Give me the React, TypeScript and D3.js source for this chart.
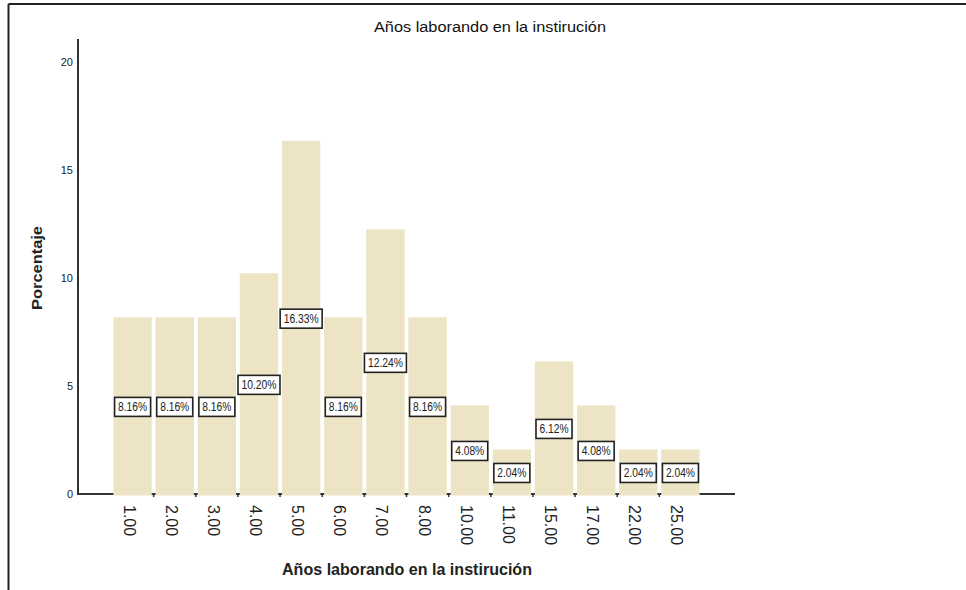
import React from "react";
import * as d3 from "d3";

const categories = ["1.00","2.00","3.00","4.00","5.00","6.00","7.00","8.00","10.00","11.00","15.00","17.00","22.00","25.00"];
const percentages = [8.16,8.16,8.16,10.20,16.33,8.16,12.24,8.16,4.08,2.04,6.12,4.08,2.04,2.04];
const yTicks = [0,5,10,15,20];
const titleText = "Años laborando en la instirución";
const xTitle = "Años laborando en la instirución";
const yTitle = "Porcentaje";

const W = 966, H = 590;

export default function App() {
  const y = d3.scaleLinear().domain([0, 21]).range([493.5, 40]);
  const x = d3.scaleBand<string>().domain(categories).range([111.5, 701.5]).paddingInner(0.09).paddingOuter(0.045);
  const bw = x.bandwidth();
  const step = x.step();
  const labelFont = "'Liberation Sans Narrow', 'Liberation Sans', Arial, sans-serif";
  const font = "'Liberation Sans', Arial, sans-serif";
  return (
    <svg width={W} height={H} style={{ position: "absolute", left: 0, top: 0, background: "#fff" }}>
      <rect x={0} y={0} width={W} height={H} fill="#fff" />
      {/* frame */}
      <line x1={8.5} y1={4} x2={W} y2={4} stroke="#222" strokeWidth={2} />
      <line x1={8.5} y1={4} x2={8.5} y2={H} stroke="#222" strokeWidth={2} />
      <text x={490} y={32} textAnchor="middle" fontFamily={font} fontSize={14} fill="#111"
        textLength={232} lengthAdjust="spacingAndGlyphs">{titleText}</text>
      {/* axes */}
      <line x1={78} y1={39} x2={78} y2={494.5} stroke="#333" strokeWidth={2} />
      <line x1={77} y1={494} x2={735} y2={494} stroke="#333" strokeWidth={2} />
      {yTicks.map(t => (
        <text key={t} x={73} y={y(t) + 4} textAnchor="end" fontFamily={font} fontSize={11} fill="#222">{t}</text>
      ))}
      {/* tick marks between bars */}
      {categories.slice(1).map(c => (
        <line key={"tk" + c} x1={(x(c) as number) - (step - bw) / 2} x2={(x(c) as number) - (step - bw) / 2}
          y1={494} y2={497} stroke="#333" strokeWidth={1.5} />
      ))}
      {/* bars */}
      {categories.map((c, i) => (
        <rect key={"b" + c} x={x(c)} y={y(percentages[i])} width={bw} height={495.5 - y(percentages[i])} fill="#EDE4C5" />
      ))}
      {/* labels */}
      {categories.map((c, i) => {
        const v = percentages[i];
        const txt = v.toFixed(2) + "%";
        const tl = txt.length >= 6 ? 35 : 29;
        const bwid = tl + 7;
        const cx = (x(c) as number) + bw / 2;
        const cy = (y(v) + y(0)) / 2 + 1.5;
        return (
          <g key={"l" + c}>
            <rect x={cx - bwid / 2} y={cy - 9.5} width={bwid} height={19} fill="#fff" stroke="#222" strokeWidth={1.6} />
            <text x={cx} y={cy + 4.5} textAnchor="middle" fontFamily={labelFont} fontSize={12.5} fill="#222"
              textLength={tl} lengthAdjust="spacingAndGlyphs">{txt}</text>
          </g>
        );
      })}
      {/* x tick labels rotated */}
      {categories.map(c => {
        const cx = (x(c) as number) + bw / 2;
        return (
          <text key={"x" + c} transform={`translate(${cx - 9},505) rotate(90)`} fontFamily={font} fontSize={16} fill="#222">{c}</text>
        );
      })}
      <text x={407} y={575} textAnchor="middle" fontFamily={font} fontSize={16} fontWeight="bold" fill="#222"
        textLength={250} lengthAdjust="spacingAndGlyphs">{xTitle}</text>
      <text transform="translate(42,268) rotate(-90)" textAnchor="middle" fontFamily={font} fontSize={15} fontWeight="bold" fill="#222"
        textLength={84} lengthAdjust="spacingAndGlyphs">{yTitle}</text>
    </svg>
  );
}
